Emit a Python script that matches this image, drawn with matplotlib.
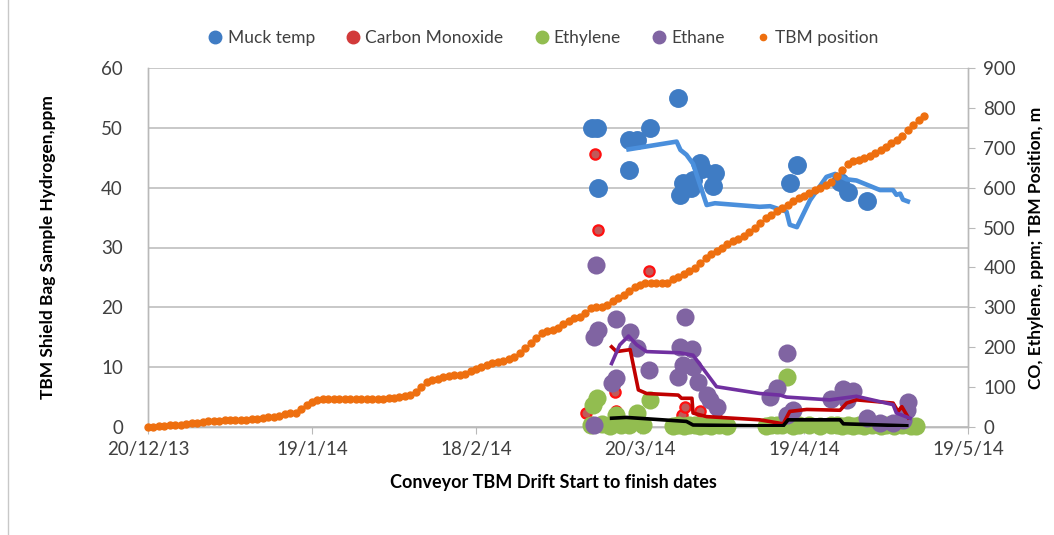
import matplotlib
matplotlib.use("Agg")
import matplotlib.pyplot as plt
import numpy as np
import pandas as pd
from matplotlib.lines import Line2D

plt.rcParams['font.family'] = ['Lato', 'DejaVu Sans']

# ---------------- data (x values are days after 20/12/13) ----------------
START = pd.Timestamp('2013-12-20')
x_tick_days = [0, 30, 60, 90, 120, 150]

# TBM position (m, right axis), one value per day from 20/12/13
tbm_pos = [0, 1, 2, 3, 4, 5, 6, 8, 10, 11,
           12, 14, 15, 16, 17, 17, 18, 18, 18, 19,
           21, 23, 24, 26, 28, 32, 35, 36, 45, 56,
           62, 68, 70, 70, 70, 70, 70, 70, 70, 70,
           70, 70, 71, 71, 72, 72, 74, 77, 80, 88,
           100, 112, 118, 121, 126, 129, 130, 131, 134, 140,
           146, 151, 155, 160, 164, 166, 170, 176, 186, 198,
           210, 224, 235, 240, 244, 248, 258, 266, 273, 276,
           286, 298, 300, 301, 306, 316, 323, 330, 340, 350,
           357, 360, 360, 360, 360, 362, 370, 377, 384, 391,
           398, 410, 424, 434, 442, 450, 460, 466, 472, 478,
           490, 500, 512, 524, 532, 541, 549, 557, 566, 574,
           580, 587, 594, 600, 606, 614, 628, 645, 660, 666,
           670, 674, 680, 687, 695, 703, 711, 720, 730, 744,
           758, 770, 780]

# Muck temp (left axis)
muck_days = [81.2, 82.2, 82.4, 88.0, 88.0, 89.5, 91.8, 96.9, 97.4, 97.9, 99.4,
             99.7, 101.0, 101.3, 103.3, 103.7, 117.5, 118.8, 126.6, 128.0, 131.5]
muck_temp = [50, 50, 40, 48, 43, 48, 50, 55, 38.8, 40.7, 39.9,
             41.3, 44.2, 43.2, 40.3, 42.4, 40.8, 43.8, 41.0, 39.2, 37.8]

# Carbon monoxide (right axis)
co_days = [80.2, 81.8, 82.4, 85.4, 85.7, 91.7, 97.6, 98.2, 101.0, 104.0, 127.2, 139.0]
co_ppm = [36, 684, 495, 88, 39, 392, 30, 51, 39, 20, 100, 60]

# Ethylene (right axis)
ethylene_days = [81.0, 81.4, 82.1, 83.0, 84.5, 85.7, 86.5, 88.0, 89.4, 90.5,
                 91.8, 96.0, 97.0, 98.0, 99.0, 100.0, 101.0, 102.0, 103.0, 104.5,
                 106.0, 113.0, 114.0, 115.0, 116.0, 116.9, 118.0, 119.0, 121.0, 123.0,
                 125.0, 126.0, 127.0, 128.0, 129.0, 130.0, 131.0, 132.5, 134.0, 135.0,
                 136.5, 138.0, 139.5, 140.5]
ethylene_ppm = [5, 55, 72, 8, 3, 30, 5, 4, 35, 6,
                68, 3, 5, 2, 4, 6, 3, 5, 2, 4,
                3, 3, 5, 4, 6, 125, 3, 5, 4, 3,
                4, 6, 3, 5, 2, 4, 3, 5, 2, 4,
                3, 5, 3, 2]

# Ethane (right axis)
ethane_days = [81.5, 81.5, 81.9, 82.4, 84.8, 85.6, 85.7, 88.2, 89.5, 91.7,
               97.0, 97.3, 97.9, 98.2, 99.5, 99.7, 100.7, 102.2, 102.8, 104.0,
               113.8, 115.0, 116.8, 116.9, 118.0, 125.0, 127.2, 127.8, 129.0, 131.5,
               133.9, 136.3, 138.2, 138.8, 139.1]
ethane_ppm = [5, 226, 406, 243, 110, 270, 122, 239, 198, 143,
              126, 201, 156, 275, 195, 151, 114, 80, 68, 51,
              75, 99, 30, 185, 43, 69, 95, 68, 89, 22,
              9, 9, 18, 43, 63]

# Trend lines (moving averages)
muck_trend_days = [87.9, 96.7, 97.4, 98.5, 99.7, 102.2, 103.7, 111.9, 113.8, 116.8,
                   117.4, 118.7, 121.1, 124.1, 125.7, 127.8, 129.6, 133.9, 136.3,
                   136.9, 137.6, 138.1, 139.0]
muck_trend = [46.4, 47.7, 46.3, 45.5, 44.0, 37.1, 37.4, 36.8, 36.9, 36.0,
              33.8, 33.4, 37.9, 41.8, 42.3, 41.4, 41.2, 39.6, 39.6,
              38.8, 39.0, 38.0, 37.7]

co_trend_days = [84.8, 85.7, 88.2, 89.7, 91.2, 97.0, 97.6, 99.5, 99.7, 102.2,
                 111.9, 116.2, 117.4, 120.5, 126.6, 127.8, 129.6, 136.3, 137.2,
                 137.9, 139.1]
co_trend = [201, 189, 194, 93, 84, 80, 72, 72, 35, 26,
            18, 8, 39, 44, 42, 60, 68, 60, 39,
            51, 23]

ethane_trend_days = [84.8, 86.3, 87.9, 89.4, 91.2, 97.3, 99.7, 104.0, 111.9, 115.6,
                     116.8, 124.7, 129.6, 136.3, 136.9, 139.4]
ethane_trend = [159, 206, 228, 206, 189, 186, 180, 101, 84, 80,
                75, 68, 77, 56, 35, 22]

ethylene_trend_days = [84.8, 87.5, 98.5, 99.7, 111.9, 116.2, 117.1, 126.6, 127.2, 138.8]
ethylene_trend = [22, 24, 14, 5, 3, 3, 18, 18, 8, 3]


def to_dates(days):
    return START + pd.to_timedelta(np.asarray(days, dtype=float), unit='D')


# ---------------- figure ----------------
fig = plt.figure(figsize=(10.54, 5.35), dpi=100)
ax = fig.add_axes([148 / 1054, 1 - 427 / 535, (968 - 148) / 1054, (427 - 68) / 535])
ax2 = ax.twinx()

C_BLUE = '#3f7cc4'
C_BLUE_LINE = '#4a8fdc'
C_RED_FACE = '#c05a5a'
C_RED_EDGE = '#ff1010'
C_GREEN = '#92bd50'
C_PURPLE = '#8064a2'
C_ORANGE = '#ee6f0f'
GRID = '#b9b9b9'
TXT = '#404040'

# primary axis: muck temperature
ax.scatter(to_dates(muck_days), muck_temp, s=185, color=C_BLUE, zorder=3,
           linewidths=0, clip_on=False)
ax.plot(to_dates(muck_trend_days), muck_trend, color=C_BLUE_LINE, lw=3.3,
        solid_joinstyle='round', zorder=4)

# secondary axis: gases and TBM position
ax2.scatter(to_dates(co_days), co_ppm, s=55, facecolor=C_RED_FACE,
            edgecolor=C_RED_EDGE, linewidths=1.6, zorder=3, clip_on=False)
ax2.scatter(to_dates(ethylene_days), ethylene_ppm, s=170, color=C_GREEN,
            linewidths=0, zorder=3, clip_on=False)
ax2.scatter(to_dates(ethane_days), ethane_ppm, s=170, color=C_PURPLE,
            linewidths=0, zorder=3, clip_on=False)
ax2.plot(to_dates(range(len(tbm_pos))), tbm_pos, linestyle='none', marker='o',
         ms=5, color=C_ORANGE, zorder=4, clip_on=False)
ax2.plot(to_dates(co_trend_days), co_trend, color='#c00000', lw=2.6, zorder=5)
ax2.plot(to_dates(ethane_trend_days), ethane_trend, color='#7030a0', lw=2.6, zorder=5)
ax2.plot(to_dates(ethylene_trend_days), ethylene_trend, color='black', lw=2.6, zorder=5)

# axes limits & ticks
ax.set_xlim(to_dates([0])[0], to_dates([150])[0])
ax.set_ylim(0, 60)
ax2.set_ylim(0, 900)
ax.set_yticks(np.arange(0, 61, 10))
ax2.set_yticks(np.arange(0, 901, 100))
tick_dates = to_dates(x_tick_days)
ax.set_xticks(tick_dates)
ax.set_xticklabels([f"{d.day}/{d.month}/{d.strftime('%y')}" for d in tick_dates])

ax.grid(axis='y', color=GRID, lw=1.1)
ax.set_axisbelow(True)
for a in (ax, ax2):
    for s in a.spines.values():
        s.set_color(GRID)
        s.set_linewidth(1.0)
ax.spines['top'].set_visible(False)
ax2.spines['top'].set_visible(False)

ax.tick_params(axis='y', length=0, pad=18, labelsize=13.5, labelcolor=TXT)
ax.tick_params(axis='x', length=5, color=GRID, pad=5, labelsize=13.5, labelcolor=TXT)
ax2.tick_params(axis='y', length=5, color=GRID, pad=6, labelsize=13.5, labelcolor=TXT)

ax.set_ylabel('TBM Shield Bag Sample Hydrogen,ppm', fontsize=12.5,
              fontweight='bold', color='black')
ax.yaxis.set_label_coords(-0.112, 0.5)
ax2.set_ylabel('CO, Ethylene, ppm; TBM Position, m', fontsize=12.5,
               fontweight='bold', color='black')
ax2.yaxis.set_label_coords(1.073, 0.5)
ax.set_xlabel('Conveyor TBM Drift Start to finish dates', fontsize=13,
              fontweight='bold', color='black')
ax.xaxis.set_label_coords(0.494, -0.131)

# legend
handles = [
    Line2D([], [], ls='none', marker='o', ms=9, color=C_BLUE),
    Line2D([], [], ls='none', marker='o', ms=9, color='#d23a3a'),
    Line2D([], [], ls='none', marker='o', ms=9, color=C_GREEN),
    Line2D([], [], ls='none', marker='o', ms=9, color=C_PURPLE),
    Line2D([], [], ls='none', marker='o', ms=4.5, color=C_ORANGE),
]
labels = ['Muck temp', 'Carbon Monoxide', 'Ethylene', 'Ethane', 'TBM position']
fig.legend(handles, labels, loc='center', bbox_to_anchor=(0.514, 1 - 38 / 535),
           ncol=5, frameon=False, fontsize=12.5, handletextpad=0.1,
           columnspacing=1.6, handlelength=1.2, labelcolor=TXT)

# thin chart border line on the left
fig.add_artist(Line2D([7.5 / 1054, 7.5 / 1054], [0, 1], color='#c8c8c8', lw=1,
                      transform=fig.transFigure))

fig.savefig('out.png', dpi=100)
